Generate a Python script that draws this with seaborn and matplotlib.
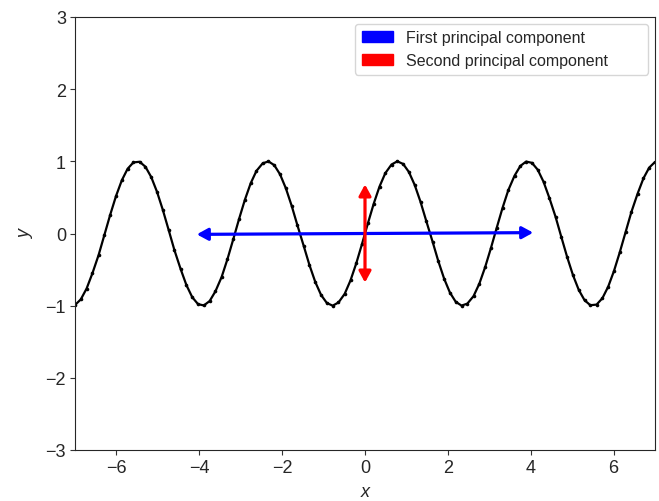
import matplotlib
matplotlib.use("Agg")
import matplotlib.pyplot as plt
import matplotlib.patches as mpatches
import seaborn as sns

# sampled curve (100 points between -7 and 7)
x_vals = [
    -7.00, -6.86, -6.72, -6.58, -6.43, -6.29, -6.15, -6.01, -5.87, -5.73,
    -5.59, -5.44, -5.30, -5.16, -5.02, -4.88, -4.74, -4.60, -4.45, -4.31,
    -4.17, -4.03, -3.89, -3.75, -3.61, -3.46, -3.32, -3.18, -3.04, -2.90,
    -2.76, -2.62, -2.47, -2.33, -2.19, -2.05, -1.91, -1.77, -1.63, -1.48,
    -1.34, -1.20, -1.06, -0.92, -0.78, -0.64, -0.49, -0.35, -0.21, -0.07,
    0.07, 0.21, 0.35, 0.49, 0.64, 0.78, 0.92, 1.06, 1.20, 1.34,
    1.48, 1.63, 1.77, 1.91, 2.05, 2.19, 2.33, 2.47, 2.62, 2.76,
    2.90, 3.04, 3.18, 3.32, 3.46, 3.61, 3.75, 3.89, 4.03, 4.17,
    4.31, 4.45, 4.60, 4.74, 4.88, 5.02, 5.16, 5.30, 5.44, 5.59,
    5.73, 5.87, 6.01, 6.15, 6.29, 6.43, 6.58, 6.72, 6.86, 7.00,
]
y_vals = [
    -0.991, -0.913, -0.763, -0.552, -0.298, -0.019, 0.260, 0.519, 0.737, 0.897,
    0.985, 0.994, 0.925, 0.782, 0.577, 0.327, 0.050, -0.231, -0.493, -0.716,
    -0.883, -0.979, -0.997, -0.936, -0.801, -0.602, -0.355, -0.080, 0.201, 0.466,
    0.695, 0.868, 0.972, 0.999, 0.947, 0.819, 0.626, 0.384, 0.111, -0.171,
    -0.439, -0.672, -0.852, -0.964, -1.000, -0.956, -0.836, -0.650, -0.412, -0.141,
    0.141, 0.412, 0.650, 0.836, 0.956, 1.000, 0.964, 0.852, 0.672, 0.439,
    0.171, -0.111, -0.384, -0.626, -0.819, -0.947, -0.999, -0.972, -0.868, -0.695,
    -0.466, -0.201, 0.080, 0.355, 0.602, 0.801, 0.936, 0.997, 0.979, 0.883,
    0.716, 0.493, 0.231, -0.050, -0.327, -0.577, -0.782, -0.925, -0.994, -0.985,
    -0.897, -0.737, -0.519, -0.260, 0.019, 0.298, 0.552, 0.763, 0.913, 0.991,
]

# principal component arrows: (start, end)
pc_labels = ["First principal component", "Second principal component"]
pc_colors = ["blue", "red"]
pc_start = [(-4.06, -0.012), (0.0, -0.68)]
pc_end = [(4.06, 0.012), (0.0, 0.68)]

sns.set_style("ticks")
plt.rcParams["font.family"] = ["Liberation Sans", "DejaVu Sans"]

fig = plt.figure(figsize=(6.59, 5.02), dpi=100)
ax = fig.add_axes([75 / 659, 1 - 451 / 502, 580 / 659, 433 / 502])

sns.lineplot(x=x_vals, y=y_vals, color="black", lw=1.6, marker="o",
             markersize=2.6, markeredgewidth=0, sort=False, ax=ax)

for s, e, c in zip(pc_start, pc_end, pc_colors):
    ax.annotate("", xy=e, xytext=s,
                arrowprops=dict(arrowstyle="<|-|>,head_length=0.55,head_width=0.3",
                                color=c, lw=2.3, shrinkA=0, shrinkB=0,
                                mutation_scale=12))

handles = [mpatches.Patch(color=c, label=l) for c, l in zip(pc_colors, pc_labels)]
ax.legend(handles=handles, loc="upper right", fontsize=11.5, mode="expand",
          bbox_to_anchor=(0.483, 0, 0.505, 0.984), borderaxespad=0)

ax.set_xlim(-7, 7)
ax.set_ylim(-3, 3)
ax.set_xticks([-6, -4, -2, 0, 2, 4, 6])
ax.set_yticks([-3, -2, -1, 0, 1, 2, 3])
ax.tick_params(labelsize=13, length=3.5, color=".2", pad=3)
ax.set_xlabel("x", fontstyle="italic", fontsize=13, labelpad=5)
ax.set_ylabel("y", fontstyle="italic", fontsize=13, labelpad=8)

fig.savefig("out.png", dpi=100)
plt.close(fig)
